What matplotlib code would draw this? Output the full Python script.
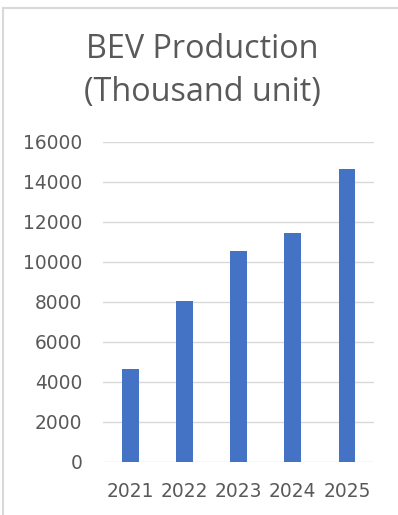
import matplotlib.pyplot as plt
from matplotlib.lines import Line2D

years = ['2021', '2022', '2023', '2024', '2025']
production = [4620, 8050, 10540, 11420, 14620]
yticks = [0, 2000, 4000, 6000, 8000, 10000, 12000, 14000, 16000]

plt.rcParams['font.family'] = ['Open Sans', 'DejaVu Sans']

W, H = 398, 515
fig = plt.figure(figsize=(W / 100, H / 100), dpi=100)
ax = fig.add_axes([103.3 / W, 1 - 461.7 / H, (374 - 103.3) / W, (461.7 - 141.7) / H])

ax.bar(range(len(years)), production, width=0.31, color='#4472C4', zorder=3)
ax.set_xlim(-0.5, len(years) - 0.5)
ax.set_ylim(0, 16000)
ax.set_yticks(yticks)
ax.set_yticklabels([str(v) for v in yticks])
ax.set_xticks(range(len(years)))
ax.set_xticklabels(years)
ax.grid(axis='y', color='#d9d9d9', linewidth=1.0, zorder=0)
for s in ax.spines.values():
    s.set_visible(False)
ax.tick_params(axis='both', length=0, labelsize=13.4, labelcolor='#595959')
for lbl in ax.get_xticklabels() + ax.get_yticklabels():
    lbl.set_family('DejaVu Sans')
ax.tick_params(axis='y', pad=15)
ax.tick_params(axis='x', pad=14.5)

fig.text(202 / W, 1 - 50 / H, 'BEV Production', ha='center', va='center',
         fontsize=23.3, color='#595959')
fig.text(202 / W, 1 - 93 / H, '(Thousand unit)', ha='center', va='center',
         fontsize=23.3, color='#595959')

# outer chart frame (only top and left edges are visible)
fig.add_artist(Line2D([3.3 / W, 3.3 / W], [0, 1 - 8.2 / H], transform=fig.transFigure,
                      color='#d9d9d9', linewidth=1.5))
fig.add_artist(Line2D([3.3 / W, 1], [1 - 8.2 / H, 1 - 8.2 / H], transform=fig.transFigure,
                      color='#d9d9d9', linewidth=1.5))

fig.savefig('out.png', dpi=100)
